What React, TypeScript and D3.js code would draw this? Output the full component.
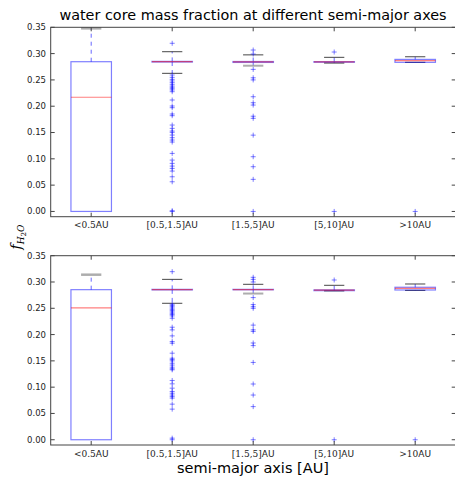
import React from "react";
import * as d3 from "d3";

const categories = ["<0.5AU", "[0.5,1.5]AU", "[1.5,5]AU", "[5,10]AU", ">10AU"];
const yTicks = [0, 0.05, 0.1, 0.15, 0.2, 0.25, 0.3, 0.35];

// Top panel
const topQ1 = [0, 0.2840, 0.2832, 0.2835, 0.2834];
const topMedian = [0.217, 0.2846, 0.2842, 0.2842, 0.2866];
const topQ3 = [0.2846, 0.2852, 0.2850, 0.2848, 0.2890];
const topWhiskLo = [0, 0.2625, 0.2770, 0.2820, 0.2834];
const topWhiskHi = [0.348, 0.3036, 0.2976, 0.2929, 0.2940];
const topFliers = [
  [],
  [0.3196, 0.2593, 0.2549, 0.2511, 0.248, 0.2448, 0.2416, 0.2384, 0.236, 0.2333, 0.2308, 0.2276,
   0.2118, 0.2004, 0.1972, 0.1852, 0.182, 0.1642, 0.1579, 0.1528, 0.1503, 0.1452, 0.1401, 0.1357,
   0.1319, 0.1103, 0.0976, 0.0913, 0.0862, 0.0818, 0.0767, 0.0659, 0.0564, 0.0013, 0.0],
  [0.3068, 0.2992, 0.270, 0.254, 0.250, 0.218, 0.2066, 0.2022, 0.181, 0.177, 0.145, 0.104, 0.085, 0.061, 0.0],
  [0.303, 0.0],
  [0.0],
];

// Bottom panel
const botQ1 = [0, 0.2850, 0.2852, 0.2835, 0.2848];
const botMedian = [0.2506, 0.2856, 0.2856, 0.2845, 0.2880];
const botQ3 = [0.2854, 0.2860, 0.2860, 0.2850, 0.2900];
const botWhiskLo = [0, 0.2595, 0.2780, 0.2830, 0.2840];
const botWhiskHi = [0.3139, 0.3050, 0.2956, 0.2937, 0.2962];
const botFliers = [
  [],
  [0.3196, 0.2577, 0.2555, 0.253, 0.2505, 0.248, 0.2455, 0.243, 0.2405, 0.238, 0.2355, 0.2311,
   0.214, 0.2089, 0.1975, 0.1867, 0.1836, 0.1646, 0.155, 0.1525, 0.15, 0.1455, 0.142, 0.138, 0.135, 0.133,
   0.1127, 0.1063, 0.0981, 0.0918, 0.0885, 0.085, 0.082, 0.0792, 0.0677, 0.0582, 0.003, 0.0],
  [0.3089, 0.305, 0.300, 0.2703, 0.257, 0.253, 0.250, 0.218, 0.209, 0.206, 0.184, 0.179, 0.147, 0.106, 0.085, 0.063, 0.0],
  [0.3038, 0.0],
  [0.0],
];

const panels = [
  { q1: topQ1, med: topMedian, q3: topQ3, lo: topWhiskLo, hi: topWhiskHi, fl: topFliers, top: 27.3, bottom: 216.7, grey: [[0, "hi"], [2, "lo"]] },
  { q1: botQ1, med: botMedian, q3: botQ3, lo: botWhiskLo, hi: botWhiskHi, fl: botFliers, top: 255.7, bottom: 445, grey: [[0, "hi"], [2, "lo"]] },
];

const LEFT = 50.7;
const RIGHT = 455.7;
const BLUE = "#0000ff";
const SANS = "DejaVu Sans, sans-serif";
const SERIF = "DejaVu Serif, serif";

export default function App() {
  const x = d3.scaleLinear().domain([0.5, 5.5]).range([LEFT, RIGHT]);
  const step = x(2) - x(1);
  const boxW = step * 0.5;
  const capW = boxW * 0.5;

  return (
    <svg width={455} height={483} style={{ position: "absolute", left: 0, top: 0 }}>
      <rect x={0} y={0} width={455} height={483} fill="#fff" />
      <text x={253} y={20} textAnchor="middle" fontFamily={SANS} fontSize={14.4} fill="#000">
        water core mass fraction at different semi-major axes
      </text>
      {panels.map((p, pi) => {
        const y = d3.scaleLinear().domain([-0.01, 0.35]).range([p.bottom, p.top]);
        return (
          <g key={pi}>
            {categories.map((c, i) => {
              const cx = x(i + 1);
              const greyHi = p.grey.some(([gi, w]) => gi === i && w === "hi");
              const greyLo = p.grey.some(([gi, w]) => gi === i && w === "lo");
              const showLoCap = !(p.lo[i] === p.q1[i] && p.q1[i] === 0);
              return (
                <g key={c}>
                  <line x1={cx} x2={cx} y1={y(p.q3[i])} y2={y(p.hi[i])} stroke={BLUE} strokeOpacity={0.6} strokeDasharray="4,4" />
                  <line x1={cx} x2={cx} y1={y(p.q1[i])} y2={y(p.lo[i])} stroke={BLUE} strokeOpacity={0.6} strokeDasharray="4,4" />
                  <line x1={cx - capW / 2} x2={cx + capW / 2} y1={y(p.hi[i])} y2={y(p.hi[i])}
                    stroke={greyHi ? "#999" : "#333"} strokeWidth={greyHi ? 2.5 : 1} strokeOpacity={greyHi ? 0.8 : 0.9} />
                  {showLoCap && (
                    <line x1={cx - capW / 2} x2={cx + capW / 2} y1={y(p.lo[i])} y2={y(p.lo[i])}
                      stroke={greyLo ? "#999" : "#333"} strokeWidth={greyLo ? 2 : 1} strokeOpacity={greyLo ? 0.8 : 0.9} />
                  )}
                  <rect x={cx - boxW / 2} y={y(p.q3[i])} width={boxW} height={Math.max(0.01, y(p.q1[i]) - y(p.q3[i]))}
                    fill="none" stroke={BLUE} strokeOpacity={0.5} strokeWidth={1.2} />
                  <line x1={cx - boxW / 2} x2={cx + boxW / 2} y1={y(p.med[i])} y2={y(p.med[i])} stroke="#ff0000" strokeOpacity={0.5} strokeWidth={1.2} />
                  {p.fl[i].map((v, k) => (
                    <path key={k} d={`M${cx - 2.5},${y(v)}h5M${cx},${y(v) - 2.5}v5`} stroke={BLUE} strokeOpacity={0.5} strokeWidth={1} fill="none" />
                  ))}
                </g>
              );
            })}
            <rect x={LEFT} y={p.top} width={RIGHT - LEFT} height={p.bottom - p.top} fill="none" stroke="#444" strokeWidth={1} />
            {yTicks.map((t) => (
              <g key={t}>
                <line x1={LEFT} x2={LEFT + 4} y1={y(t)} y2={y(t)} stroke="#444" />
                <line x1={RIGHT - 4} x2={RIGHT} y1={y(t)} y2={y(t)} stroke="#444" />
                <text x={46} y={y(t)} dy="0.35em" textAnchor="end" fontFamily={SANS} fontSize={8.5} fill="#222">
                  {d3.format(".2f")(t)}
                </text>
              </g>
            ))}
            {categories.map((c, i) => (
              <g key={"t" + c}>
                <line x1={x(i + 1)} x2={x(i + 1)} y1={p.bottom} y2={p.bottom - 4} stroke="#444" />
                <line x1={x(i + 1)} x2={x(i + 1)} y1={p.top} y2={p.top + 4} stroke="#444" />
                <text x={x(i + 1)} y={p.bottom + 11.5} textAnchor="middle" fontSize={9} fill="#222">
                  <tspan fontFamily={SERIF}>{c.replace("AU", "")}</tspan>
                  <tspan fontFamily={SANS}>AU</tspan>
                </text>
              </g>
            ))}
          </g>
        );
      })}
      <text x={253} y={473} textAnchor="middle" fontFamily={SANS} fontSize={14.5} fill="#000">
        semi-major axis [AU]
      </text>
      <text transform="translate(21,237) rotate(-90)" textAnchor="middle" fontFamily={SERIF} fill="#000">
        <tspan fontStyle="italic" fontSize={14}>f</tspan>
        <tspan fontStyle="italic" fontSize={9} dy={3}>H</tspan>
        <tspan fontSize={7} dy={2}>2</tspan>
        <tspan fontStyle="italic" fontSize={9} dy={-2}>O</tspan>
      </text>
    </svg>
  );
}
